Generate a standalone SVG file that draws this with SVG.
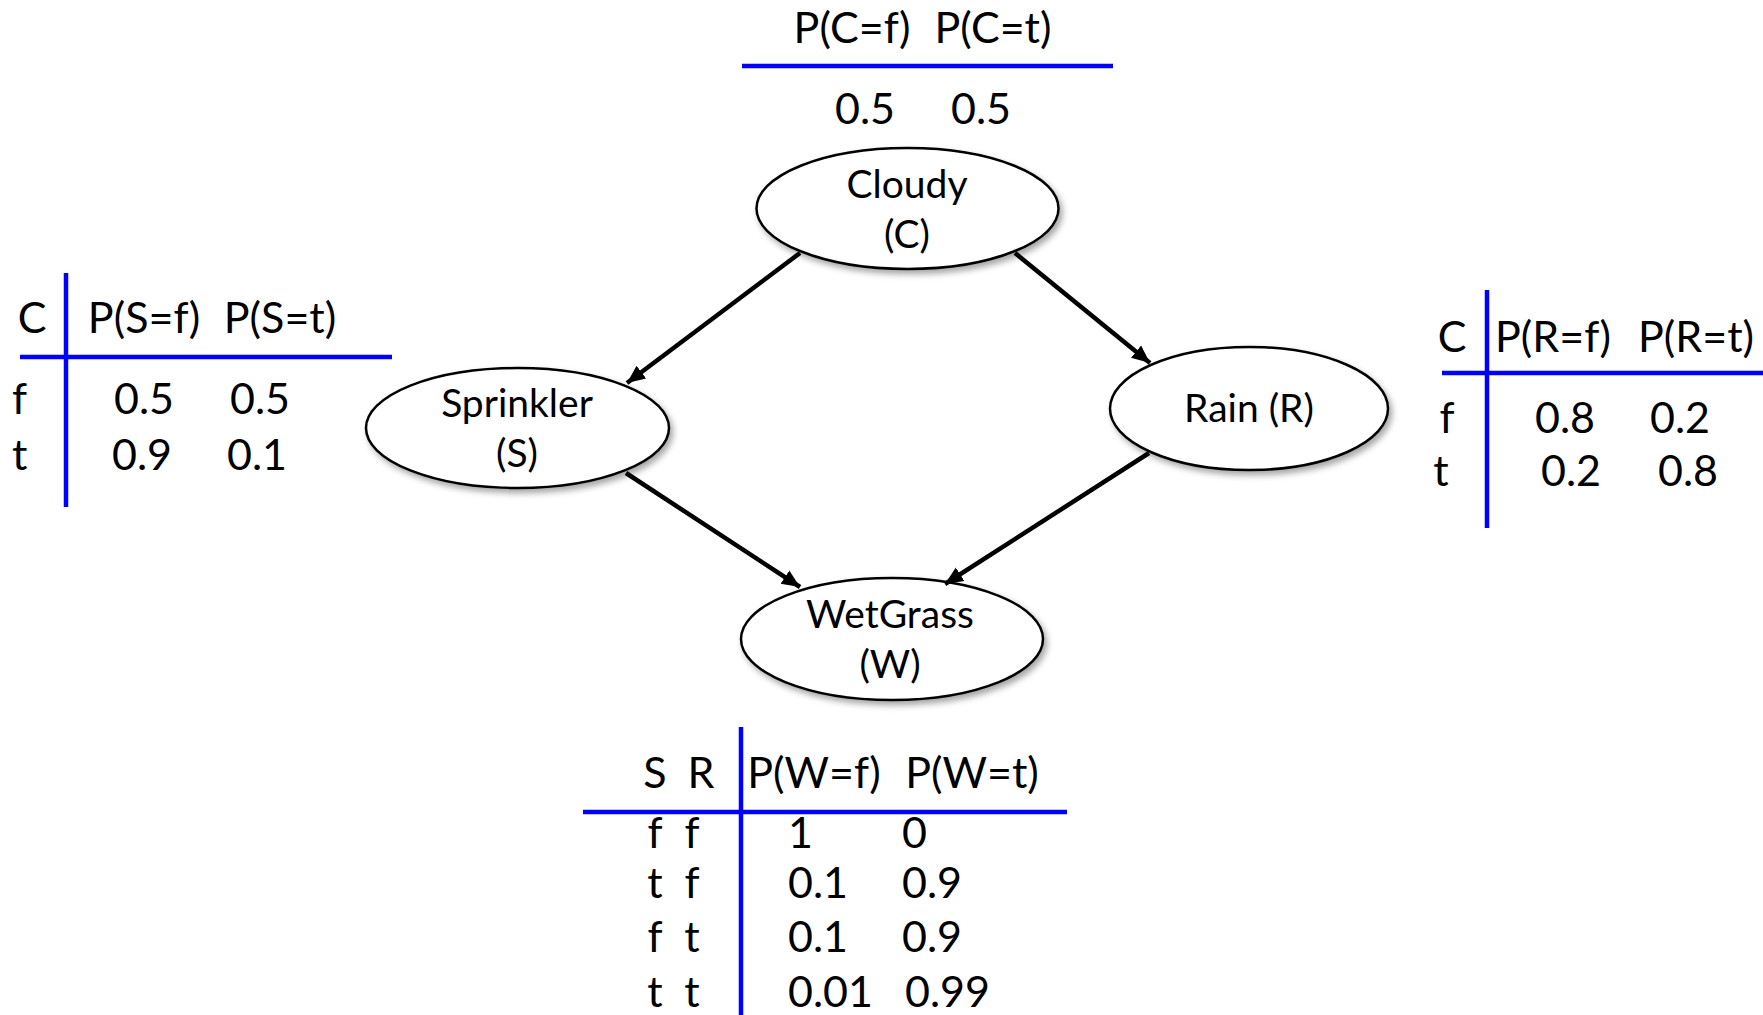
<svg xmlns="http://www.w3.org/2000/svg" width="1763" height="1015" viewBox="0 0 1763 1015">
  <style>
    text { font-family: Lato, "Open Sans", "Liberation Sans", sans-serif; fill: #000; }
    .tbl { font-size: 43px; }
    .lbl { font-size: 39px; text-anchor: middle; }
    .mid { text-anchor: middle; }
    .rule { stroke: #0000ff; stroke-width: 4.5; fill: none; }
    .node { fill: #fff; stroke: #000; stroke-width: 2.5; filter: url(#shadow); }
    .edge { stroke: #000; stroke-width: 4.5; fill: none; marker-end: url(#arrow); }
  </style>
  <defs>
    <filter id="shadow" x="-10%" y="-15%" width="125%" height="140%">
      <feDropShadow dx="3" dy="4" stdDeviation="3" flood-color="#000" flood-opacity="0.35"/>
    </filter>
    <marker id="arrow" markerUnits="userSpaceOnUse" markerWidth="20" markerHeight="18" refX="18" refY="9" orient="auto">
      <path d="M0,1 L18,9 L0,17 Z" fill="#000"/>
    </marker>
  </defs>

  <rect width="1763" height="1015" fill="#fff"/>

  <!-- CPT for Cloudy -->
  <g id="cpt-cloudy" class="tbl">
    <text x="852" y="43" class="mid">P(C=f)</text>
    <text x="993" y="43" class="mid">P(C=t)</text>
    <line class="rule" x1="742" y1="66" x2="1113" y2="66"/>
    <text x="865" y="124" class="mid">0.5</text>
    <text x="981" y="124" class="mid">0.5</text>
  </g>

  <!-- CPT for Sprinkler -->
  <g id="cpt-sprinkler" class="tbl">
    <text x="32" y="333" class="mid">C</text>
    <text x="144" y="333" class="mid">P(S=f)</text>
    <text x="280" y="333" class="mid">P(S=t)</text>
    <line class="rule" x1="66" y1="273" x2="66" y2="507"/>
    <line class="rule" x1="20" y1="357" x2="392" y2="357"/>
    <text x="12" y="414">f</text>
    <text x="12" y="470">t</text>
    <text x="144" y="414" class="mid">0.5</text>
    <text x="260" y="414" class="mid">0.5</text>
    <text x="142" y="470" class="mid">0.9</text>
    <text x="257" y="470" class="mid">0.1</text>
  </g>

  <!-- CPT for Rain -->
  <g id="cpt-rain" class="tbl">
    <text x="1452" y="352" class="mid">C</text>
    <text x="1553" y="352" class="mid">P(R=f)</text>
    <text x="1696" y="352" class="mid">P(R=t)</text>
    <line class="rule" x1="1487" y1="290" x2="1487" y2="528"/>
    <line class="rule" x1="1442" y1="373" x2="1763" y2="373"/>
    <text x="1447" y="433" class="mid">f</text>
    <text x="1441" y="486" class="mid">t</text>
    <text x="1565" y="433" class="mid">0.8</text>
    <text x="1680" y="433" class="mid">0.2</text>
    <text x="1571" y="486" class="mid">0.2</text>
    <text x="1688" y="486" class="mid">0.8</text>
  </g>

  <!-- CPT for WetGrass -->
  <g id="cpt-wetgrass" class="tbl">
    <text x="655" y="788" class="mid">S</text>
    <text x="701" y="788" class="mid">R</text>
    <text x="814" y="788" class="mid">P(W=f)</text>
    <text x="972" y="788" class="mid">P(W=t)</text>
    <line class="rule" x1="741" y1="727" x2="741" y2="1015"/>
    <line class="rule" x1="583" y1="812" x2="1067" y2="812"/>
    <text x="655" y="848" class="mid">f</text>
    <text x="692" y="848" class="mid">f</text>
    <text x="655" y="898" class="mid">t</text>
    <text x="692" y="898" class="mid">f</text>
    <text x="655" y="952" class="mid">f</text>
    <text x="692" y="952" class="mid">t</text>
    <text x="655" y="1007" class="mid">t</text>
    <text x="692" y="1007" class="mid">t</text>
    <text x="788" y="848">1</text>
    <text x="902" y="848">0</text>
    <text x="788" y="898">0.1</text>
    <text x="902" y="898">0.9</text>
    <text x="788" y="952">0.1</text>
    <text x="902" y="952">0.9</text>
    <text x="788" y="1007">0.01</text>
    <text x="905" y="1007">0.99</text>
  </g>

  <!-- Network nodes -->
  <g id="node-cloudy">
    <ellipse class="node" cx="907.5" cy="208.5" rx="151" ry="60.5"/>
    <text class="lbl" x="907" y="198">Cloudy</text>
    <text class="lbl" x="907" y="248">(C)</text>
  </g>
  <g id="node-sprinkler">
    <ellipse class="node" cx="517.5" cy="428" rx="151.5" ry="60"/>
    <text class="lbl" x="517" y="417">Sprinkler</text>
    <text class="lbl" x="517" y="467">(S)</text>
  </g>
  <g id="node-rain">
    <ellipse class="node" cx="1249" cy="408.5" rx="139" ry="61.5"/>
    <text class="lbl" x="1249" y="422">Rain (R)</text>
  </g>
  <g id="node-wetgrass">
    <ellipse class="node" cx="892" cy="639" rx="151" ry="61"/>
    <text class="lbl" x="890" y="628">WetGrass</text>
    <text class="lbl" x="890" y="678">(W)</text>
  </g>

  <!-- Directed edges -->
  <g id="edges">
    <line class="edge" x1="800" y1="253" x2="627" y2="383"/>
    <line class="edge" x1="1015" y1="253" x2="1150" y2="363"/>
    <line class="edge" x1="626" y1="473" x2="800" y2="587"/>
    <line class="edge" x1="1149" y1="453" x2="945" y2="584"/>
  </g>
</svg>
